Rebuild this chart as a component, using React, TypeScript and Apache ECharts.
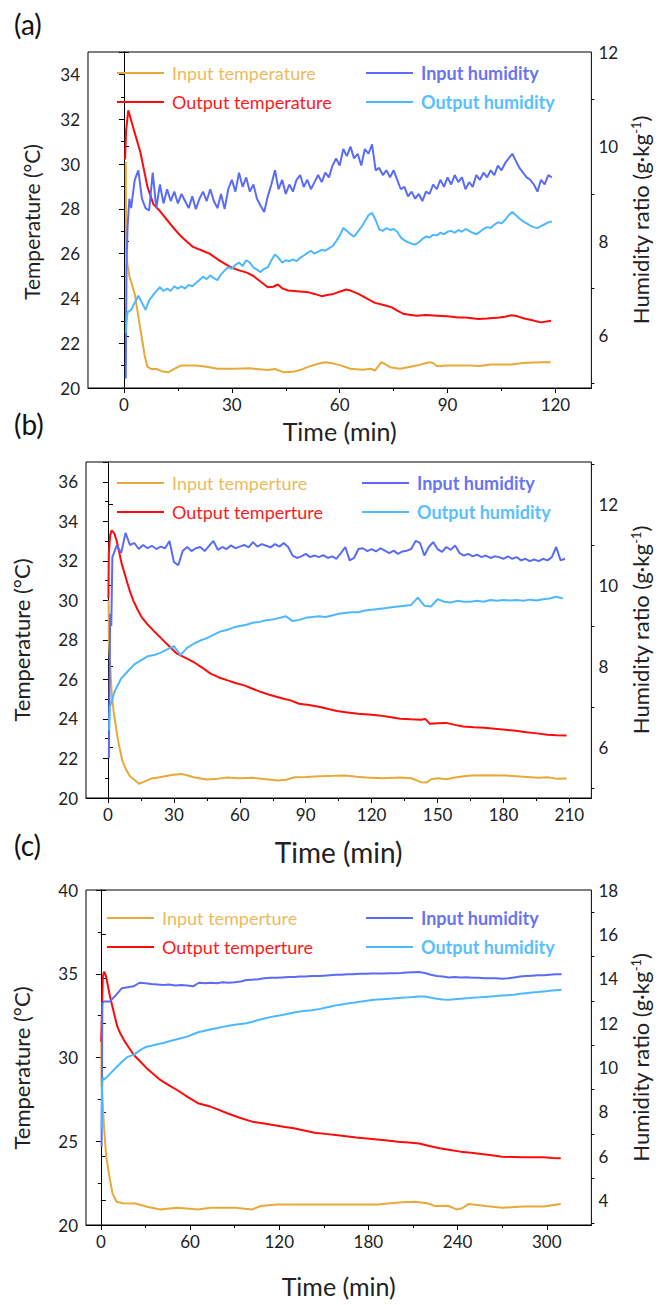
import React, { useEffect, useRef } from "react";
import * as echarts from "echarts";

const FONT = "Lato, 'Open Sans', sans-serif";
const C_IN_T = "#E8A93A";
const C_OUT_T = "#FF0A0A";
const C_IN_H = "#5A6CF6";
const C_OUT_H = "#4DB8FF";
const TXT_IN_T = "#EDBA5E";
const TXT_OUT_T = "#FF1A1A";
const TXT_IN_H = "#6874F2";
const TXT_OUT_H = "#58C0FF";

// ---------- Panel (a) ----------
const aInTemp: [number, number][] = [
  [0.5, 30.1], [0.6, 26.1], [0.9, 25.6], [1.5, 25.0], [3, 24.2], [4, 23.2], [4.8, 22.4], [5.7, 21.5],
  [6.5, 20.95], [7.5, 20.85], [9, 20.85], [10.5, 20.75], [12.3, 20.7], [14, 20.85], [15.8, 21.0], [20, 21.0],
  [23, 20.95], [26, 20.86], [30.7, 20.86], [35, 20.88], [40, 20.8], [42, 20.85], [44.5, 20.7], [47, 20.72],
  [49, 20.8], [51, 20.93], [54, 21.08], [56, 21.15], [58, 21.1], [60.5, 21.0], [63, 20.86], [66.4, 20.82],
  [68.7, 20.86], [69.8, 20.78], [71.6, 21.15], [72.8, 21.05], [74, 20.93], [76.8, 20.86], [79, 20.93],
  [81.4, 21.0], [84.8, 21.15], [86, 21.12], [87, 20.98], [90.5, 21.0], [96, 21.0], [99, 20.98], [102, 21.05],
  [107.8, 21.05], [111, 21.12], [116, 21.15], [118.7, 21.15],
];
const aOutTemp: [number, number][] = [
  [0.3, 30.2], [0.6, 31.5], [1.2, 32.4], [2.8, 31.5], [4.6, 30.5], [6.5, 29.0], [8.2, 28.2], [10, 27.9],
  [12, 27.5], [13.5, 27.2], [16, 26.75], [19.2, 26.3], [21.5, 26.15], [23.8, 26.0], [26.5, 25.7], [29.6, 25.4],
  [32, 25.25], [34.2, 25.15], [36, 25.0], [37.6, 24.8], [40, 24.5], [41.5, 24.52], [42.8, 24.62], [44, 24.45],
  [45.7, 24.35], [48, 24.32], [51.4, 24.27], [53, 24.2], [55, 24.1], [56.5, 24.15], [58.3, 24.2], [60, 24.3],
  [61.8, 24.4], [63, 24.35], [65.2, 24.2], [67.5, 24.0], [69.8, 23.8], [72, 23.72], [74.5, 23.6], [76, 23.45],
  [77.9, 23.3], [81.4, 23.23], [84, 23.26], [87.1, 23.23], [90, 23.2], [92.9, 23.15], [95, 23.15], [98.6, 23.08],
  [101, 23.1], [104.4, 23.15], [106, 23.18], [107.8, 23.25], [109.5, 23.2], [111.3, 23.1], [113, 23.05],
  [115.9, 22.93], [118.8, 23.0],
];
const aInHumHead: [number, number][] = [[0.5, 5.1], [0.7, 7.5], [1.0, 8.3], [1.5, 8.9]];
const aInHumStart = 2; // min, sampled every 1 min
const aInHum = [
  8.7, 9.3, 9.5, 8.9, 8.7, 8.65, 9.45, 8.7, 9.2, 8.8,
  9.1, 8.85, 9.05, 8.8, 9.0, 8.85, 8.7, 8.95, 8.68, 8.9,
  9.05, 8.85, 9.1, 8.85, 8.7, 9.0, 8.68, 9.1, 9.3, 9.05,
  9.45, 9.15, 9.35, 9.05, 9.2, 8.9, 8.75, 8.62, 8.95, 9.2,
  9.5, 9.1, 9.3, 9.0, 9.2, 9.05, 9.3, 9.4, 9.15, 9.3,
  9.1, 9.25, 9.4, 9.25, 9.45, 9.35, 9.6, 9.75, 9.6, 9.95,
  9.8, 10.0, 9.75, 9.85, 9.6, 9.95, 9.85, 10.05, 9.5, 9.55,
  9.4, 9.5, 9.35, 9.5, 9.3, 9.1, 9.15, 8.95, 9.05, 8.9,
  9.0, 8.85, 9.05, 9.0, 9.2, 9.1, 9.3, 9.15, 9.35, 9.2,
  9.4, 9.25, 9.35, 9.1, 9.25, 9.15, 9.4, 9.3, 9.45, 9.35,
  9.5, 9.4, 9.6, 9.5, 9.65, 9.75, 9.85, 9.7, 9.55, 9.45,
  9.35, 9.3, 9.2, 9.05, 9.3, 9.2, 9.4, 9.35,
];
const aOutHumHead: [number, number][] = [[0.5, 6.06], [0.7, 6.3]];
const aOutHumStart = 1; // every 1 min
const aOutHum = [
  6.5, 6.55, 6.7, 6.85, 6.7, 6.55, 6.75, 6.85, 6.95, 7.03,
  6.95, 7.0, 6.95, 7.05, 7.0, 7.05, 7.0, 7.08, 7.05, 7.12,
  7.18, 7.25, 7.2, 7.28, 7.22, 7.18, 7.3, 7.38, 7.45, 7.42,
  7.5, 7.55, 7.48, 7.6, 7.55, 7.45, 7.4, 7.35, 7.42, 7.45,
  7.6, 7.72, 7.65, 7.55, 7.6, 7.58, 7.62, 7.58, 7.65, 7.7,
  7.75, 7.8, 7.74, 7.78, 7.82, 7.8, 7.85, 7.9, 8.0, 8.12,
  8.28, 8.22, 8.15, 8.1, 8.2, 8.3, 8.42, 8.55, 8.6, 8.45,
  8.25, 8.22, 8.28, 8.24, 8.26, 8.2, 8.08, 8.02, 7.98, 7.95,
  7.93, 7.98, 8.05, 8.1, 8.08, 8.14, 8.12, 8.18, 8.15, 8.2,
  8.22, 8.18, 8.24, 8.2, 8.26, 8.22, 8.18, 8.15, 8.2, 8.26,
  8.3, 8.28, 8.35, 8.4, 8.38, 8.45, 8.55, 8.62, 8.55, 8.48,
  8.42, 8.38, 8.33, 8.3, 8.28, 8.32, 8.36, 8.4, 8.42,
];

// ---------- Panel (b) ----------
const bInTemp: [number, number][] = [
  [0.3, 30.0], [0.4, 27.9], [0.8, 27.1], [1.7, 25.3], [2.65, 24.3], [4.6, 22.9], [6.5, 21.9], [8.4, 21.4],
  [10, 21.1], [12.2, 20.9], [14.2, 20.72], [16, 20.8], [19.9, 20.99], [23.5, 21.05], [27.6, 21.14], [30, 21.18],
  [33.3, 21.22], [36, 21.15], [39, 21.05], [44.8, 20.94], [50, 20.98], [54.4, 21.04], [60, 21.0], [65.9, 21.02],
  [72, 20.95], [77.4, 20.89], [81, 20.92], [85, 21.05], [90, 21.06], [96.5, 21.1], [103, 21.12], [108, 21.14],
  [113, 21.08], [117.6, 21.04], [125, 21.0], [133, 21.04], [138, 21.0], [142.5, 20.8], [145, 20.78], [147, 20.95],
  [150.2, 21.0], [154, 20.95], [157.9, 21.04], [162, 21.1], [165.5, 21.14], [172, 21.15], [180.9, 21.14],
  [186, 21.1], [192.4, 21.05], [196, 21.02], [200, 21.05], [204, 20.98], [208.7, 20.99],
];
const bOutTemp: [number, number][] = [
  [0.2, 30.1], [0.4, 32.4], [1, 33.3], [1.7, 33.54], [2.8, 33.4], [3.9, 33.04], [5, 32.5], [6.2, 31.87],
  [8.5, 31.0], [10, 30.45], [11.5, 30.0], [13.4, 29.55], [15.3, 29.15], [17.9, 28.8], [20.6, 28.48],
  [23.6, 28.15], [26.7, 27.8], [29.5, 27.5], [31.4, 27.3], [35.8, 27.06], [39, 26.88], [42.8, 26.6],
  [46.7, 26.29], [50.5, 26.1], [54.4, 25.95], [58, 25.82], [62, 25.7], [65.8, 25.53], [69.7, 25.36],
  [73.5, 25.22], [77.4, 25.1], [80, 25.02], [83.1, 24.94], [87, 24.77], [91.5, 24.7], [96.5, 24.6],
  [100.3, 24.5], [104.2, 24.4], [109, 24.33], [113.8, 24.26], [118.6, 24.22], [123.4, 24.18], [128.2, 24.1],
  [133, 24.01], [137.8, 23.98], [142.5, 23.96], [144.4, 24.0], [146.4, 23.76], [150.2, 23.78], [154, 23.8],
  [157.8, 23.7], [161.7, 23.62], [166.5, 23.58], [171.3, 23.55], [176, 23.5], [180.9, 23.45], [185.6, 23.4],
  [190.4, 23.33], [195.2, 23.27], [200, 23.2], [204.3, 23.17], [208.7, 23.16],
];
const bInHumHead: [number, number][] = [[0.4, 5.73], [0.7, 7.5], [1.0, 9.3], [1.5, 9.0]];
const bInHumStart = 2; // every 2 min
const bInHum = [
  10.7, 10.99, 10.8, 11.3, 11.0, 11.05, 10.9, 11.0, 10.92, 10.98,
  10.9, 10.96, 10.92, 11.1, 10.58, 10.5, 10.85, 10.95, 10.85, 10.92,
  10.95, 10.85, 10.98, 11.1, 10.88, 10.95, 10.9, 10.99, 10.92, 10.96,
  11.0, 10.94, 11.07, 10.96, 11.02, 10.98, 10.94, 11.02, 10.96, 11.05,
  10.95, 10.74, 10.68, 10.72, 10.78, 10.7, 10.74, 10.7, 10.75, 10.68,
  10.72, 10.66, 10.8, 10.95, 10.62, 10.68, 10.9, 10.92, 10.85, 10.9,
  10.84, 10.92, 10.86, 10.8, 10.86, 10.78, 10.84, 10.86, 10.9, 11.1,
  11.05, 10.74, 10.95, 11.07, 10.9, 10.83, 10.95, 10.88, 10.99, 10.8,
  10.74, 10.78, 10.72, 10.76, 10.7, 10.74, 10.68, 10.72, 10.7, 10.66,
  10.72, 10.66, 10.7, 10.62, 10.66, 10.6, 10.64, 10.6, 10.66, 10.62,
  10.7, 10.95, 10.62, 10.66,
];
const bOutHumHead: [number, number][] = [[0.5, 6.42], [0.8, 7.0], [1.5, 7.1]];
const bOutHumStart = 3; // every 3 min
const bOutHum = [
  7.38, 7.7, 7.88, 8.05, 8.15, 8.25, 8.28, 8.34, 8.42, 8.5,
  8.28, 8.46, 8.56, 8.64, 8.7, 8.78, 8.86, 8.9, 8.96, 9.0,
  9.03, 9.08, 9.1, 9.14, 9.16, 9.2, 9.24, 9.12, 9.15, 9.2,
  9.22, 9.24, 9.22, 9.26, 9.3, 9.32, 9.34, 9.34, 9.38, 9.4,
  9.42, 9.44, 9.46, 9.48, 9.5, 9.52, 9.7, 9.5, 9.48, 9.66,
  9.6, 9.58, 9.62, 9.6, 9.6, 9.62, 9.6, 9.64, 9.62, 9.64,
  9.63, 9.64, 9.62, 9.65, 9.63, 9.66, 9.68, 9.72, 9.68,
];

// ---------- Panel (c) ----------
const cInTemp: [number, number][] = [
  [0.3, 30.9], [0.5, 28.3], [0.7, 28.26], [1.5, 26.8], [2.2, 25.77], [3.6, 24.08], [5.8, 22.89], [7.8, 21.89],
  [10.6, 21.39], [14.8, 21.3], [23.2, 21.28], [31.7, 21.07], [40, 20.93], [51.3, 21.03], [58, 20.98],
  [65.3, 20.93], [73.7, 21.03], [90.5, 21.03], [101.8, 20.93], [107.4, 21.13], [118.6, 21.23], [135.4, 21.23],
  [157.9, 21.23], [185.9, 21.23], [202.7, 21.36], [211.2, 21.39], [219.6, 21.3], [225.1, 21.13], [233.6, 21.15],
  [239.2, 20.93], [243, 21.0], [247.6, 21.26], [258.8, 21.13], [270, 21.03], [284, 21.1], [298, 21.1],
  [309.4, 21.26],
];
const cOutTemp: [number, number][] = [
  [0.2, 30.94], [0.8, 33.0], [1.3, 34.8], [2.2, 35.12], [3.3, 34.9], [4.4, 34.43], [6, 33.7], [7.8, 33.03],
  [9.5, 32.4], [11.1, 31.84], [13.3, 31.4], [15.5, 31.04], [18.8, 30.6], [22.2, 30.15], [26.6, 29.75],
  [31, 29.35], [35.5, 29.0], [40, 28.66], [45.6, 28.35], [51.3, 28.06], [58.3, 27.65], [65.3, 27.27],
  [73.7, 27.07], [79.4, 26.87], [85, 26.67], [93.4, 26.4], [101.8, 26.17], [108.8, 26.07], [115.8, 25.97],
  [122.8, 25.87], [129.8, 25.77], [136.8, 25.64], [143.8, 25.51], [150.9, 25.44], [157.9, 25.37],
  [164.9, 25.3], [171.9, 25.23], [178.9, 25.17], [185.9, 25.11], [192.9, 25.04], [199.9, 24.97], [207, 24.92],
  [214, 24.87], [221, 24.72], [228, 24.58], [235, 24.48], [242, 24.38], [249, 24.31], [256, 24.24],
  [263, 24.16], [270, 24.08], [277, 24.06], [284, 24.04], [291, 24.04], [298, 24.04], [304, 24.0],
  [309.4, 23.98],
];
const cInHumHead: [number, number][] = [[0.5, 6.43], [0.8, 10.5], [1.0, 12.9]];
const cInHumStart = 2; // every 4 min
const cInHum = [
  12.97, 12.97, 13.25, 13.57, 13.62, 13.66, 13.82, 13.8, 13.76, 13.74,
  13.72, 13.74, 13.7, 13.72, 13.7, 13.66, 13.82, 13.8, 13.82, 13.8,
  13.84, 13.82, 13.84, 13.88, 13.94, 13.96, 13.98, 14.02, 14.04, 14.04,
  14.06, 14.08, 14.08, 14.1, 14.1, 14.12, 14.12, 14.14, 14.16, 14.18,
  14.18, 14.2, 14.2, 14.22, 14.22, 14.24, 14.24, 14.24, 14.25, 14.25,
  14.26, 14.28, 14.29, 14.3, 14.26, 14.18, 14.12, 14.1, 14.06, 14.08,
  14.06, 14.07, 14.05, 14.04, 14.02, 14.02, 14.02, 14.0, 14.02, 14.06,
  14.1, 14.12, 14.14, 14.16, 14.16, 14.18, 14.2, 14.2,
];
const cOutHumHead: [number, number][] = [[0.5, 7.2], [0.8, 9.0], [1.2, 9.55]];
const cOutHumStart = 2; // every 4 min
const cOutHum = [
  9.45, 9.7, 9.98, 10.25, 10.48, 10.57, 10.76, 10.92, 10.98, 11.05,
  11.1, 11.18, 11.25, 11.32, 11.39, 11.5, 11.6, 11.66, 11.72, 11.77,
  11.83, 11.88, 11.93, 11.96, 11.99, 12.06, 12.14, 12.21, 12.27, 12.32,
  12.37, 12.42, 12.48, 12.52, 12.56, 12.58, 12.62, 12.68, 12.74, 12.8,
  12.84, 12.88, 12.92, 12.96, 13.0, 13.04, 13.06, 13.08, 13.1, 13.12,
  13.14, 13.16, 13.18, 13.2, 13.2, 13.14, 13.1, 13.06, 13.05, 13.08,
  13.1, 13.12, 13.14, 13.16, 13.18, 13.2, 13.22, 13.24, 13.26, 13.28,
  13.32, 13.35, 13.38, 13.4, 13.43, 13.46, 13.48, 13.5,
];

// ---------- Axis ticks ----------
const aXTicks = [0, 30, 60, 90, 120];
const aXMinor = [15, 45, 75, 105];
const bXTicks = [0, 30, 60, 90, 120, 150, 180, 210];
const bXMinor = [15, 45, 75, 105, 135, 165, 195];
const cXTicks = [0, 60, 120, 180, 240, 300];
const cXMinor = [30, 90, 150, 210, 270];
const abHumTicks = [6, 8, 10, 12];
const aHumMinor = [5, 7, 9, 11];
const bHumMinor = [5, 7, 9, 11, 13];
const cHumTicks = [4, 6, 8, 10, 12, 14, 16, 18];
const cHumMinor = [3, 5, 7, 9, 11, 13, 15, 17];

function sampled(head: [number, number][], start: number, step: number, vals: number[]) {
  return head.concat(vals.map((v, i) => [Math.round((start + i * step) * 100) / 100, v] as [number, number]));
}

const LABEL = { fontFamily: FONT, fontSize: 17, color: "#222" };
const AXLINE = { show: true, lineStyle: { color: "#000", width: 1 } };

type PanelCfg = {
  top: number; left: number; width: number; height: number;
  xMin: number; xMax: number; xTicks: number[]; xMinor: number[];
  tMin: number; tMax: number; tInterval: number;
  hMin: number; hMax: number; hTicks: number[]; hMinor: number[];
  xNameSize: number; xNameGap: number; hNameGap: number;
  tName: { x: number; y: number; size: number };
  tempNames: [string, string];
  legendTop: number; legendLeft1: number; legendLeft2: number;
  series: { inT: [number, number][]; outT: [number, number][]; inH: [number, number][]; outH: [number, number][] };
};

function buildPanel(i: number, p: PanelCfg) {
  const grid = {
    left: p.left, top: p.top, width: p.width, height: p.height,
    show: true, borderColor: "#000", borderWidth: 1, backgroundColor: "transparent",
  };
  const xAxes = [
    {
      type: "value", gridIndex: i, min: p.xMin, max: p.xMax, position: "bottom",
      name: "Time (min)", nameLocation: "middle", nameGap: p.xNameGap,
      nameTextStyle: { fontFamily: FONT, fontSize: p.xNameSize, color: "#222" },
      axisLine: AXLINE,
      axisTick: { show: true, length: 5, customValues: p.xTicks, lineStyle: { color: "#000" } },
      axisLabel: { ...LABEL, margin: 8, customValues: p.xTicks },
      splitLine: { show: false },
    },
    {
      type: "value", gridIndex: i, min: p.xMin, max: p.xMax, position: "bottom",
      axisLine: { show: false },
      axisTick: { show: true, length: 3, customValues: p.xMinor, lineStyle: { color: "#000" } },
      axisLabel: { show: false },
      splitLine: { show: false },
    },
  ];
  const yAxes = [
    {
      type: "value", gridIndex: i, min: p.tMin, max: p.tMax, interval: p.tInterval, position: "left",
      axisLine: AXLINE,
      axisTick: { show: true, length: 5, lineStyle: { color: "#000" } },
      minorTick: { show: true, splitNumber: 2, length: 3, lineStyle: { color: "#000" } },
      axisLabel: { ...LABEL, margin: 8, showMaxLabel: p.tMax % p.tInterval === 0 },
      splitLine: { show: false },
      minorSplitLine: { show: false },
    },
    {
      type: "value", gridIndex: i, min: p.hMin, max: p.hMax, position: "right",
      name: "Humidity ratio (g\u00B7kg{sup|-1})", nameLocation: "middle", nameGap: p.hNameGap,
      nameTextStyle: {
        fontFamily: FONT, fontSize: 22, color: "#222",
        rich: { sup: { fontFamily: FONT, fontSize: 13, color: "#222", verticalAlign: "top", lineHeight: 13 } },
      },
      axisLine: AXLINE,
      axisTick: { show: true, length: 5, customValues: p.hTicks, lineStyle: { color: "#000" } },
      axisLabel: { ...LABEL, margin: 7, customValues: p.hTicks },
      splitLine: { show: false },
    },
    {
      type: "value", gridIndex: i, min: p.hMin, max: p.hMax, position: "right",
      axisLine: { show: false },
      axisTick: { show: true, length: 3, customValues: p.hMinor, lineStyle: { color: "#000" } },
      axisLabel: { show: false },
      splitLine: { show: false },
    },
  ];
  const line = (name: string, color: string, data: [number, number][], yIdx: number) => ({
    type: "line", name, data, xAxisIndex: 2 * i, yAxisIndex: 3 * i + yIdx,
    symbol: "none", showSymbol: false, lineStyle: { color, width: 2 }, itemStyle: { color },
    silent: true,
  });
  const series = [
    line(p.tempNames[0], C_IN_T, p.series.inT, 0),
    line(p.tempNames[1], C_OUT_T, p.series.outT, 0),
    line("Input humidity", C_IN_H, p.series.inH, 1),
    line("Output humidity", C_OUT_H, p.series.outH, 1),
  ];
  const legendBase = {
    orient: "vertical", top: p.legendTop, itemWidth: 47, itemHeight: 2, itemGap: 11,
    icon: "rect", selectedMode: false, padding: 0,
  };
  const legends = [
    {
      ...legendBase, left: p.legendLeft1,
      textStyle: { fontFamily: FONT, fontSize: 18, lineHeight: 18, padding: [0, 0, 0, 3] },
      data: [
        { name: p.tempNames[0], icon: "rect", itemStyle: { color: C_IN_T }, textStyle: { color: TXT_IN_T } },
        { name: p.tempNames[1], icon: "rect", itemStyle: { color: C_OUT_T }, textStyle: { color: TXT_OUT_T } },
      ],
    },
    {
      ...legendBase, left: p.legendLeft2,
      textStyle: { fontFamily: FONT, fontSize: 18, fontWeight: "bold", lineHeight: 18, padding: [0, 0, 0, 3] },
      data: [
        { name: "Input humidity", icon: "rect", itemStyle: { color: C_IN_H }, textStyle: { color: TXT_IN_H } },
        { name: "Output humidity", icon: "rect", itemStyle: { color: C_OUT_H }, textStyle: { color: TXT_OUT_H } },
      ],
    },
  ];
  const tempName = {
    type: "text", x: p.tName.x, y: p.tName.y, rotation: Math.PI / 2, silent: true,
    style: {
      text: "Temperature (\u00B0C)", font: `${p.tName.size}px ${FONT}`, fill: "#222",
      align: "center", verticalAlign: "middle",
    },
  };
  return { grid, xAxes, yAxes, series, legends, tempName };
}

const panels: PanelCfg[] = [
  {
    top: 52, left: 88, width: 508, height: 336,
    xMin: -10, xMax: 130, xTicks: aXTicks, xMinor: aXMinor,
    tMin: 20, tMax: 35, tInterval: 2,
    hMin: 4.9, hMax: 12, hTicks: abHumTicks, hMinor: aHumMinor,
    xNameSize: 25, xNameGap: 30, hNameGap: 28,
    tName: { x: 31, y: 222, size: 21 },
    tempNames: ["Input temperature", "Output temperature"],
    legendTop: 64, legendLeft1: 117, legendLeft2: 366,
    series: {
      inT: aInTemp, outT: aOutTemp,
      inH: sampled(aInHumHead, aInHumStart, 1, aInHum),
      outH: sampled(aOutHumHead, aOutHumStart, 1, aOutHum),
    },
  },
  {
    top: 462, left: 86, width: 507, height: 336,
    xMin: -10, xMax: 220, xTicks: bXTicks, xMinor: bXMinor,
    tMin: 20, tMax: 37, tInterval: 2,
    hMin: 4.75, hMax: 13.05, hTicks: abHumTicks, hMinor: bHumMinor,
    xNameSize: 28, xNameGap: 40, hNameGap: 30,
    tName: { x: 21, y: 640, size: 22 },
    tempNames: ["Input temperture", "Output temperture"],
    legendTop: 474, legendLeft1: 117, legendLeft2: 362,
    series: {
      inT: bInTemp, outT: bOutTemp,
      inH: sampled(bInHumHead, bInHumStart, 2, bInHum),
      outH: sampled(bOutHumHead, bOutHumStart, 3, bOutHum),
    },
  },
  {
    top: 890, left: 86, width: 508, height: 335,
    xMin: -10, xMax: 330, xTicks: cXTicks, xMinor: cXMinor,
    tMin: 20, tMax: 40, tInterval: 5,
    hMin: 2.9, hMax: 18, hTicks: cHumTicks, hMinor: cHumMinor,
    xNameSize: 25, xNameGap: 48, hNameGap: 30,
    tName: { x: 21, y: 1068, size: 22 },
    tempNames: ["Input temperture", "Output temperture"],
    legendTop: 909, legendLeft1: 107, legendLeft2: 366,
    series: {
      inT: cInTemp, outT: cOutTemp,
      inH: sampled(cInHumHead, cInHumStart, 4, cInHum),
      outH: sampled(cOutHumHead, cOutHumStart, 4, cOutHum),
    },
  },
];

const panelLetters = ["(a)", "(b)", "(c)"];
const letterTops = [10, 410, 831];

export default function App() {
  const ref = useRef<HTMLDivElement>(null);
  useEffect(() => {
    if (!ref.current) return;
    const chart = echarts.init(ref.current, null, { renderer: "svg" });
    const built = panels.map((p, i) => buildPanel(i, p));
    const option: any = {
      animation: false,
      backgroundColor: "#fff",
      grid: built.map((b) => b.grid),
      xAxis: built.flatMap((b) => b.xAxes),
      yAxis: built.flatMap((b) => b.yAxes),
      series: built.flatMap((b) => b.series),
      legend: built.flatMap((b) => b.legends),
      graphic: [
        ...panelLetters.map((t, i) => ({
          type: "text", left: 14, top: letterTops[i], silent: true,
          style: { text: t, font: `28px ${FONT}`, fill: "#111" },
        })),
        ...built.map((b) => b.tempName),
      ],
    };
    chart.setOption(option);
    return () => chart.dispose();
  }, []);
  return (
    <div
      ref={ref}
      style={{ position: "absolute", left: 0, top: 0, width: 659, height: 1305, background: "#fff" }}
    />
  );
}
